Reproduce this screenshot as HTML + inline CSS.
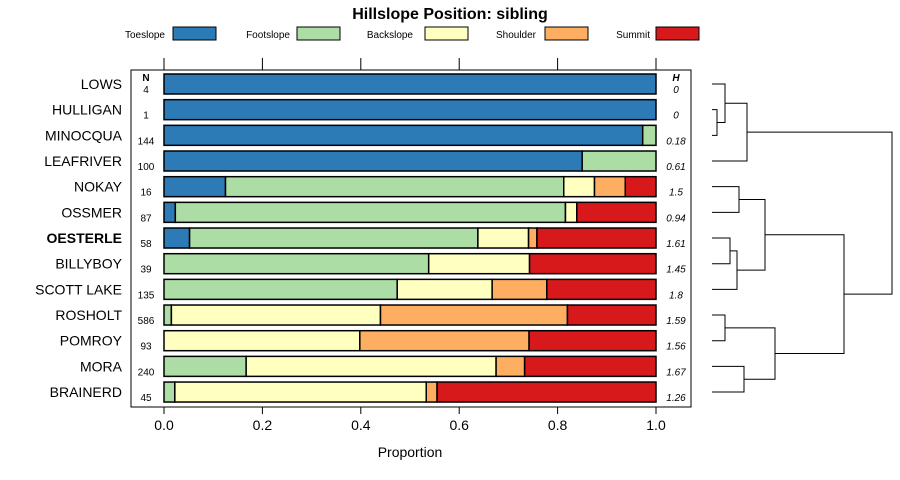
<!DOCTYPE html>
<html><head><meta charset="utf-8"><style>
body{margin:0;background:#fff;}
svg{display:block;font-family:"Liberation Sans",sans-serif;}
</style></head><body>
<svg id="chart" width="900" height="480">
<text x="450" y="19" text-anchor="middle" font-size="16" font-weight="bold">Hillslope Position: sibling</text>
<g id="legend"></g>
<rect x="131" y="70" width="560" height="337" fill="none" stroke="#000" stroke-width="1"/>
<g id="bars"></g>
<g id="axes"></g>
<g id="dendro" stroke="#000" stroke-width="1" fill="none"></g>
<text x="410" y="457" text-anchor="middle" font-size="14">Proportion</text>
</svg>
<script>
const categories=["LOWS","HULLIGAN","MINOCQUA","LEAFRIVER","NOKAY","OSSMER","OESTERLE","BILLYBOY","SCOTT LAKE","ROSHOLT","POMROY","MORA","BRAINERD"];
const counts=[4,1,144,100,16,87,58,39,135,586,93,240,45];
const entropy=["0","0","0.18","0.61","1.5","0.94","1.61","1.45","1.8","1.59","1.56","1.67","1.26"];
const seriesNames=["Toeslope","Footslope","Backslope","Shoulder","Summit"];
const toeslope=[1,1,0.973,0.85,0.125,0.023,0.052,0,0,0,0,0,0];
const footslope=[0,0,0.027,0.15,0.6875,0.793,0.586,0.538,0.474,0.015,0,0.167,0.022];
const backslope=[0,0,0,0,0.0625,0.023,0.103,0.205,0.193,0.425,0.398,0.508,0.511];
const shoulder=[0,0,0,0,0.0625,0,0.017,0,0.111,0.38,0.344,0.058,0.022];
const summit=[0,0,0,0,0.0625,0.161,0.242,0.257,0.222,0.18,0.258,0.267,0.445];
const ticks=[0,0.2,0.4,0.6,0.8,1.0];
const tickLabels=["0.0","0.2","0.4","0.6","0.8","1.0"];
const colors=["#2c7bb6","#abdda4","#ffffbf","#fdae61","#d7191c"];
const NS="http://www.w3.org/2000/svg";
const X=p=>164+p*492;
const Y=i=>84+i*25.67;
function mk(tag,attrs,parent){const e=document.createElementNS(NS,tag);for(const k in attrs)e.setAttribute(k,attrs[k]);parent.appendChild(e);return e;}
const series=[toeslope,footslope,backslope,shoulder,summit];
const bars=document.getElementById('bars');
categories.forEach((c,i)=>{
  const y=Y(i);
  const lab=mk('text',{x:122,y:y+5,'text-anchor':'end','font-size':14,'font-weight':c==="OESTERLE"?'bold':'normal'},bars);
  lab.textContent=c;
  
  
  const n=mk('text',{x:146,y:y+9,'text-anchor':'middle','font-size':10},bars);
  n.textContent=counts[i];
  
  
  const h=mk('text',{x:676,y:y+9,'text-anchor':'middle','font-size':10,'font-style':'italic'},bars);
  h.textContent=entropy[i];
  
  
  let cum=0;
  series.forEach((s,k)=>{
    const v=s[i]; if(v<=0) return;
    const r=mk('rect',{x:X(cum),y:y-10,width:X(cum+v)-X(cum),height:20,fill:colors[k],stroke:'#000','stroke-width':1.5},bars);
    
    
    cum+=v;
  });
});
const nh=mk('text',{x:146,y:81,'text-anchor':'middle','font-size':10,'font-weight':'bold'},bars);nh.textContent="N";


const hh=mk('text',{x:676,y:81,'text-anchor':'middle','font-size':10,'font-weight':'bold','font-style':'italic'},bars);hh.textContent="H";


const axes=document.getElementById('axes');
ticks.forEach((t,i)=>{
  mk('line',{x1:X(t),x2:X(t),y1:58,y2:70,stroke:'#000'},axes);
  mk('line',{x1:X(t),x2:X(t),y1:407,y2:414,stroke:'#000'},axes);
  const tl=mk('text',{x:X(t),y:430,'text-anchor':'middle','font-size':14},axes);
  tl.textContent=tickLabels[i];
  
  
});
const legend=document.getElementById('legend');
const legTextEnd=[165,290,413,536,650],legBox=[173,297,425,545,656];
seriesNames.forEach((s,k)=>{
  const t=mk('text',{x:legTextEnd[k],y:38,'text-anchor':'end','font-size':10},legend);
  t.textContent=s;
  
  
  const r=mk('rect',{x:legBox[k],y:27,width:43,height:13,fill:colors[k],stroke:'#000'},legend);
  
  
});
// dendrogram: merges [leftY,rightY,mergeX,leftX,rightX]
const leaf=712;
const merges=[
 [Y(1),Y(2),717,leaf,leaf],
 [Y(0),(Y(1)+Y(2))/2,725,leaf,717],
 [(Y(0)+(Y(1)+Y(2))/2)/2,Y(3),747,725,leaf],
 [Y(4),Y(5),739,leaf,leaf],
 [Y(6),Y(7),730,leaf,leaf],
 [(Y(6)+Y(7))/2,Y(8),737,730,leaf],
 [(Y(4)+Y(5))/2,((Y(6)+Y(7))/2+Y(8))/2,765,739,737],
 [Y(9),Y(10),725,leaf,leaf],
 [Y(11),Y(12),744,leaf,leaf],
 [(Y(9)+Y(10))/2,(Y(11)+Y(12))/2,775,725,744]
];
const dg=document.getElementById('dendro');
function uShape(a,b,mx,lx,rx){mk('path',{d:`M${lx},${a}H${mx}V${b}H${rx}`},dg);return (a+b)/2;}
merges.forEach(m=>uShape(...m));
const topA=merges[2];const yA=(topA[0]+topA[1])/2;
const yB1=(merges[6][0]+merges[6][1])/2,yB2=(merges[9][0]+merges[9][1])/2;
const yB=uShape(yB1,yB2,844,765,775);
uShape(yA,yB,892,747,844);
</script>
</body></html>
